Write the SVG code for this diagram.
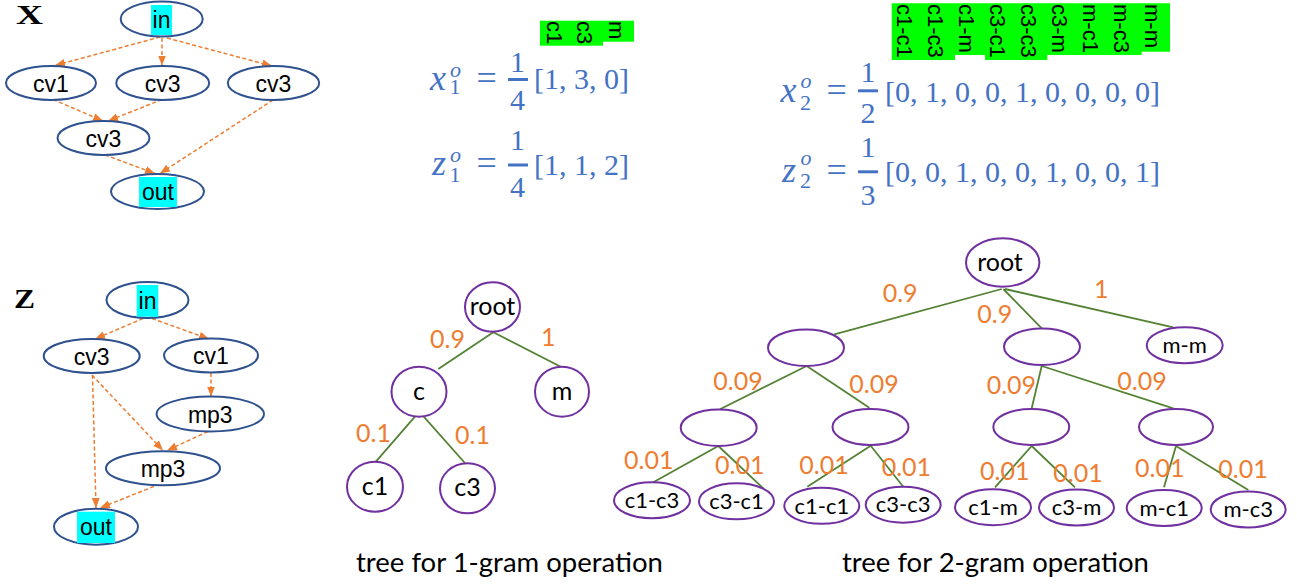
<svg xmlns="http://www.w3.org/2000/svg" width="1297" height="586" viewBox="0 0 1297 586">
<defs>
<marker id="arr" markerUnits="userSpaceOnUse" markerWidth="10" markerHeight="8" refX="10" refY="4" orient="auto">
<path d="M0,0 L10,4 L0,8 z" fill="#ED7D31"/>
</marker>
<style>
.gn ellipse{fill:#fff;stroke:#2F528F;stroke-width:2}
.gt{font-family:"Liberation Sans",Arial,sans-serif;font-size:23px;fill:#000;text-anchor:middle}
.hl{fill:#00FFFF}
.de{stroke:#ED7D31;stroke-width:1.5;stroke-dasharray:4 2.5;fill:none;marker-end:url(#arr)}
.big{font-family:"Liberation Serif",serif;font-weight:bold;font-size:27px;fill:#000}
.fm{font-family:"Liberation Serif","DejaVu Serif",serif;fill:#4472C4}
.it{font-style:italic}
.lab{font-family:"Liberation Sans",Arial,sans-serif;font-size:22px;fill:#000}
.tn ellipse{fill:#fff;stroke:#7030A0;stroke-width:2}
.tt{font-family:Lato,"Open Sans",sans-serif;fill:#000;text-anchor:middle}
.te{stroke:#548235;stroke-width:1.8;fill:none}
.w{font-family:Lato,"Open Sans",sans-serif;font-size:25px;fill:#ED7D31}
.cap{font-family:Lato,"Open Sans",sans-serif;font-size:27.5px;fill:#000}
</style>
</defs>
<rect width="1297" height="586" fill="#fff"/>

<!-- Graph X -->
<text class="big" x="16" y="24" textLength="27" lengthAdjust="spacingAndGlyphs">X</text>
<g id="x-edges">
<line class="de" x1="160" y1="37" x2="55" y2="65.5"/>
<line class="de" x1="162" y1="38" x2="162" y2="65.5"/>
<line class="de" x1="167" y1="38" x2="272" y2="66"/>
<line class="de" x1="53" y1="99.5" x2="103" y2="121"/>
<line class="de" x1="162" y1="99.5" x2="108" y2="121"/>
<line class="de" x1="105" y1="155" x2="155" y2="173.5"/>
<line class="de" x1="273" y1="100" x2="160" y2="173.5"/>
</g>
<g id="x-in" class="gn"><ellipse cx="161.7" cy="19" rx="41" ry="17.5"/><rect class="hl" x="151" y="5" width="21" height="30"/><text class="gt" x="161.5" y="27.5">in</text></g>
<g id="x-cv1" class="gn"><ellipse cx="51" cy="83" rx="45" ry="17"/><text class="gt" x="51" y="91.5">cv1</text></g>
<g id="x-cv3a" class="gn"><ellipse cx="162.7" cy="83" rx="46.5" ry="17"/><text class="gt" x="162.7" y="91.5">cv3</text></g>
<g id="x-cv3b" class="gn"><ellipse cx="273.5" cy="83" rx="45.7" ry="17"/><text class="gt" x="273.5" y="91.5">cv3</text></g>
<g id="x-cv3c" class="gn"><ellipse cx="103.5" cy="138" rx="46" ry="17"/><text class="gt" x="103.5" y="146.5">cv3</text></g>
<g id="x-out" class="gn"><ellipse cx="157.5" cy="191.5" rx="46.5" ry="17.5"/><rect class="hl" x="139" y="177" width="38" height="30"/><text class="gt" x="158" y="200">out</text></g>

<!-- Graph Z -->
<text class="big" x="14" y="308" textLength="21" lengthAdjust="spacingAndGlyphs">Z</text>
<g id="z-edges">
<line class="de" x1="143" y1="318.5" x2="95" y2="339"/>
<line class="de" x1="152" y1="318.5" x2="209" y2="339"/>
<line class="de" x1="211" y1="373" x2="211" y2="396.5"/>
<line class="de" x1="92" y1="375" x2="163" y2="450.5"/>
<line class="de" x1="208" y1="431.5" x2="167" y2="450.5"/>
<line class="de" x1="92.5" y1="375" x2="96" y2="508"/>
<line class="de" x1="160" y1="484" x2="100" y2="508"/>
</g>
<g id="z-in" class="gn"><ellipse cx="147.5" cy="300" rx="41" ry="18"/><rect class="hl" x="136.7" y="285" width="21.6" height="31.7"/><text class="gt" x="147.5" y="308.5">in</text></g>
<g id="z-cv3" class="gn"><ellipse cx="91.7" cy="356" rx="48" ry="17"/><text class="gt" x="91.7" y="364.5">cv3</text></g>
<g id="z-cv1" class="gn"><ellipse cx="211" cy="355.5" rx="47" ry="17"/><text class="gt" x="211" y="364">cv1</text></g>
<g id="z-mp3a" class="gn"><ellipse cx="210.3" cy="414" rx="53.7" ry="17.5"/><text class="gt" x="210.3" y="422.5">mp3</text></g>
<g id="z-mp3b" class="gn"><ellipse cx="163" cy="468.3" rx="57" ry="17"/><text class="gt" x="163" y="476.8">mp3</text></g>
<g id="z-out" class="gn"><ellipse cx="96" cy="526.7" rx="42" ry="18"/><rect class="hl" x="77" y="511.7" width="38" height="31.3"/><text class="gt" x="96" y="535.2">out</text></g>

<!-- 1-gram labels -->
<g id="labels-1gram">
<rect x="540" y="20.7" width="63" height="25" fill="#00FF00"/>
<rect x="603" y="20.7" width="31" height="21" fill="#00FF00"/>
<text class="lab" transform="translate(546.5,21) rotate(90)">c1</text>
<text class="lab" transform="translate(577,21) rotate(90)">c3</text>
<text class="lab" transform="translate(608.5,21) rotate(90)">m</text>
</g>

<!-- 2-gram labels -->
<g id="labels-2gram">
<path d="M891.7,3.3 H1170 V51.7 H1141.7 V55 H1047.3 V60 H985 V55 H955 V60 H891.7 Z" fill="#00FF00"/>
<text class="lab" transform="translate(896.5,4) rotate(90)">c1-c1</text>
<text class="lab" transform="translate(927.6,4) rotate(90)">c1-c3</text>
<text class="lab" transform="translate(958.7,4) rotate(90)">c1-m</text>
<text class="lab" transform="translate(989.8,4) rotate(90)">c3-c1</text>
<text class="lab" transform="translate(1020.9,4) rotate(90)">c3-c3</text>
<text class="lab" transform="translate(1052,4) rotate(90)">c3-m</text>
<text class="lab" transform="translate(1083.1,4) rotate(90)">m-c1</text>
<text class="lab" transform="translate(1114.2,4) rotate(90)">m-c3</text>
<text class="lab" transform="translate(1145.3,4) rotate(90)">m-m</text>
</g>

<!-- formulas -->
<g id="f-x1" class="fm">
<text class="it" x="430" y="89.5" font-size="36">x</text>
<text class="it" x="450" y="76.7" font-size="22">o</text>
<text x="449.5" y="93.5" font-size="22">1</text>
<text x="476.5" y="89.5" font-size="36">=</text>
<text x="517.5" y="71.5" font-size="30" text-anchor="middle">1</text>
<rect x="508" y="78" width="20" height="3"/>
<text x="517.5" y="110" font-size="30" text-anchor="middle">4</text>
<text x="534" y="89" font-size="30">[1, 3, 0]</text>
</g>
<g id="f-z1" class="fm">
<text class="it" x="432" y="175" font-size="36">z</text>
<text class="it" x="450" y="161.7" font-size="22">o</text>
<text x="449.5" y="181.5" font-size="22">1</text>
<text x="476.5" y="175" font-size="36">=</text>
<text x="517.5" y="150" font-size="30" text-anchor="middle">1</text>
<rect x="508" y="163.5" width="20" height="3"/>
<text x="517.5" y="197" font-size="30" text-anchor="middle">4</text>
<text x="534" y="175" font-size="30">[1, 1, 2]</text>
</g>
<g id="f-x2" class="fm">
<text class="it" x="780.5" y="101.7" font-size="36">x</text>
<text class="it" x="800.5" y="88" font-size="22">o</text>
<text x="800" y="110" font-size="22">2</text>
<text x="826.5" y="101.7" font-size="36">=</text>
<text x="868" y="81.7" font-size="30" text-anchor="middle">1</text>
<rect x="858" y="89.3" width="20" height="3"/>
<text x="868" y="122.5" font-size="30" text-anchor="middle">2</text>
<text x="885" y="101.7" font-size="30">[0, 1, 0, 0, 1, 0, 0, 0, 0]</text>
</g>
<g id="f-z2" class="fm">
<text class="it" x="782" y="181.7" font-size="36">z</text>
<text class="it" x="800.5" y="165" font-size="22">o</text>
<text x="800" y="188" font-size="22">2</text>
<text x="826.5" y="181.7" font-size="36">=</text>
<text x="868" y="156.7" font-size="30" text-anchor="middle">1</text>
<rect x="858" y="170.3" width="20" height="3"/>
<text x="868" y="205" font-size="30" text-anchor="middle">3</text>
<text x="885" y="181.7" font-size="30">[0, 0, 1, 0, 0, 1, 0, 0, 1]</text>
</g>

<!-- Tree 1 -->
<g id="t1-edges">
<line class="te" x1="493.3" y1="332.3" x2="438.3" y2="369"/>
<line class="te" x1="493.3" y1="332.3" x2="561.7" y2="367.3"/>
<line class="te" x1="419.3" y1="411.7" x2="375" y2="462.7"/>
<line class="te" x1="419.3" y1="411.7" x2="466.7" y2="465"/>
</g>
<g id="t1-root" class="tn"><ellipse cx="492.5" cy="307" rx="27.5" ry="24.7"/><text class="tt" x="492.5" y="315" font-size="25">root</text></g>
<g id="t1-c" class="tn"><ellipse cx="419" cy="391.7" rx="27.5" ry="25"/><text class="tt" x="419" y="399.7" font-size="25">c</text></g>
<g id="t1-m" class="tn"><ellipse cx="562" cy="391.7" rx="27" ry="25"/><text class="tt" x="562" y="399.7" font-size="25">m</text></g>
<g id="t1-c1" class="tn"><ellipse cx="375" cy="486.7" rx="28" ry="25"/><text class="tt" x="375" y="494.7" font-size="25">c1</text></g>
<g id="t1-c3" class="tn"><ellipse cx="467.5" cy="488.3" rx="27.5" ry="25"/><text class="tt" x="467.5" y="496.3" font-size="25">c3</text></g>
<g id="t1-weights">
<text class="w" x="430" y="348">0.9</text>
<text class="w" x="541" y="346">1</text>
<text class="w" x="356" y="441.7">0.1</text>
<text class="w" x="455" y="444">0.1</text>
</g>
<text class="cap" x="356" y="572">tree for 1-gram operation</text>

<!-- Tree 2 -->
<g id="t2-edges">
<line class="te" x1="1001.7" y1="289" x2="834.3" y2="334.3"/>
<line class="te" x1="1003.3" y1="289" x2="1041.7" y2="328.3"/>
<line class="te" x1="1005" y1="289" x2="1173.3" y2="327.3"/>
<line class="te" x1="806.7" y1="366" x2="720" y2="409.3"/>
<line class="te" x1="806.7" y1="366" x2="869.3" y2="407.7"/>
<line class="te" x1="1041.7" y1="366" x2="1031.7" y2="408.3"/>
<line class="te" x1="1041.7" y1="366" x2="1173.3" y2="408.3"/>
<line class="te" x1="718.3" y1="446" x2="653.3" y2="482.3"/>
<line class="te" x1="718.3" y1="446" x2="763.3" y2="488.3"/>
<line class="te" x1="870.7" y1="445.7" x2="807.3" y2="486.7"/>
<line class="te" x1="870.7" y1="445.7" x2="903.3" y2="486.7"/>
<line class="te" x1="1031.7" y1="446" x2="995" y2="487.3"/>
<line class="te" x1="1031.7" y1="446" x2="1075" y2="487.3"/>
<line class="te" x1="1176" y1="446" x2="1164" y2="487.3"/>
<line class="te" x1="1176" y1="446" x2="1248.3" y2="490"/>
</g>
<g id="t2-root" class="tn"><ellipse cx="1002.7" cy="262.5" rx="36.7" ry="24.2"/><text class="tt" x="1000" y="271" font-size="25">root</text></g>
<g id="t2-n1" class="tn"><ellipse cx="806" cy="347.7" rx="38" ry="18.3"/></g>
<g id="t2-n2" class="tn"><ellipse cx="1042" cy="346.7" rx="38" ry="18.3"/></g>
<g id="t2-mm" class="tn"><ellipse cx="1184.7" cy="345.3" rx="38" ry="18"/><text class="tt" x="1184.7" y="353" font-size="22">m-m</text></g>
<g id="t2-n3" class="tn"><ellipse cx="718.7" cy="427.7" rx="38" ry="18.3"/></g>
<g id="t2-n4" class="tn"><ellipse cx="870.5" cy="427" rx="38" ry="18"/></g>
<g id="t2-n5" class="tn"><ellipse cx="1031.3" cy="427" rx="38" ry="18"/></g>
<g id="t2-n6" class="tn"><ellipse cx="1176" cy="427" rx="37" ry="18"/></g>
<g id="t2-c1c3" class="tn"><ellipse cx="652" cy="500.3" rx="38" ry="18"/><text class="tt" x="652" y="508" font-size="22">c1-c3</text></g>
<g id="t2-c3c1" class="tn"><ellipse cx="736.5" cy="501.3" rx="37.5" ry="18"/><text class="tt" x="736.5" y="509" font-size="22">c3-c1</text></g>
<g id="t2-c1c1" class="tn"><ellipse cx="821.8" cy="505.8" rx="37.5" ry="18"/><text class="tt" x="821.8" y="513.5" font-size="22">c1-c1</text></g>
<g id="t2-c3c3" class="tn"><ellipse cx="903.2" cy="504.7" rx="37.5" ry="18"/><text class="tt" x="903.2" y="512.4" font-size="22">c3-c3</text></g>
<g id="t2-c1m" class="tn"><ellipse cx="993" cy="507.2" rx="38" ry="18"/><text class="tt" x="993" y="515" font-size="22">c1-m</text></g>
<g id="t2-c3m" class="tn"><ellipse cx="1076.5" cy="507.5" rx="37.5" ry="18"/><text class="tt" x="1076.5" y="515.2" font-size="22">c3-m</text></g>
<g id="t2-mc1" class="tn"><ellipse cx="1164.2" cy="508" rx="37.5" ry="18"/><text class="tt" x="1164.2" y="515.7" font-size="22">m-c1</text></g>
<g id="t2-mc3" class="tn"><ellipse cx="1248.2" cy="509.5" rx="37.5" ry="18"/><text class="tt" x="1248.2" y="517.2" font-size="22">m-c3</text></g>
<g id="t2-weights">
<text class="w" x="882.7" y="301.7">0.9</text>
<text class="w" x="1094" y="298">1</text>
<text class="w" x="977.3" y="323.3">0.9</text>
<text class="w" x="713.3" y="390">0.09</text>
<text class="w" x="849.3" y="393.3">0.09</text>
<text class="w" x="986.7" y="394.3">0.09</text>
<text class="w" x="1117.3" y="390">0.09</text>
<text class="w" x="624" y="469.3">0.01</text>
<text class="w" x="715" y="474.3">0.01</text>
<text class="w" x="799.3" y="474.3">0.01</text>
<text class="w" x="881.7" y="476">0.01</text>
<text class="w" x="980" y="480">0.01</text>
<text class="w" x="1053.3" y="481.7">0.01</text>
<text class="w" x="1135" y="476.7">0.01</text>
<text class="w" x="1218.3" y="478.3">0.01</text>
</g>
<text class="cap" x="842" y="572">tree for 2-gram operation</text>
</svg>
